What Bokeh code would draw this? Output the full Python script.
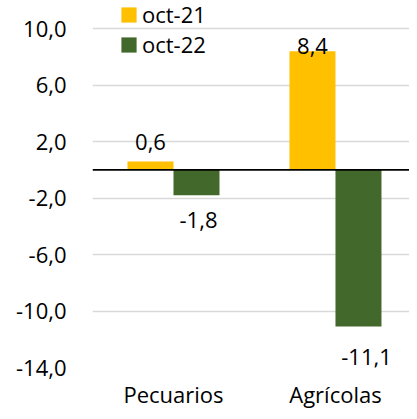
from bokeh.plotting import figure
from bokeh.models import (ColumnDataSource, Range1d, Span, Legend, LegendItem,
                          FixedTicker, CustomJSTickFormatter)
from bokeh.core.properties import value
from bokeh.embed import file_html
from bokeh.resources import INLINE

# ---- data ----
categories = ["Pecuarios", "Agrícolas"]
series_names = ["oct-21", "oct-22"]
oct_21 = [0.6, 8.4]
oct_22 = [-1.8, -11.1]
y_ticks = [-14.0, -10.0, -6.0, -2.0, 2.0, 6.0, 10.0]


def fmt(v):
    return f"{v:.1f}".replace(".", ",")


# ---- style / layout ----
FONT = "Open Sans"
FS = "22px"
YELLOW = "#FFC000"
GREEN = "#43682B"
BAR_W = 0.284
X_END = 1.957          # visible part of the 2-category axis
lbl21_dy = [-19, -5]
lbl22_dy = [25, 30]
lbl21_dx = [0, 0]
lbl22_dx = [2, 8]

# category centres on a numeric axis
cat_x = [i + 0.5 for i in range(len(categories))]

p = figure(x_range=Range1d(0, X_END), y_range=Range1d(-14, 12),
           width=409, height=411, output_backend="svg", toolbar_location=None,
           min_border_left=92, min_border_right=0, min_border_top=0,
           min_border_bottom=37)
p.outline_line_color = None
p.background_fill_color = "white"
p.border_fill_color = "white"

src21 = ColumnDataSource(dict(x=[c - BAR_W / 2 for c in cat_x], v=oct_21,
                              lbl=[fmt(v) for v in oct_21],
                              dy=lbl21_dy, dx=lbl21_dx))
src22 = ColumnDataSource(dict(x=[c + BAR_W / 2 for c in cat_x], v=oct_22,
                              lbl=[fmt(v) for v in oct_22],
                              dy=lbl22_dy, dx=lbl22_dx))

r21 = p.vbar(x="x", top="v", bottom=0, width=BAR_W, source=src21,
             fill_color=YELLOW, line_color=None)
r22 = p.vbar(x="x", top="v", bottom=0, width=BAR_W, source=src22,
             fill_color=GREEN, line_color=None)

for src in (src21, src22):
    p.text(x="x", y="v", text="lbl", x_offset="dx", y_offset="dy", source=src,
           text_font=value(FONT), text_font_size=FS, text_color="black",
           text_align="center", text_baseline="alphabetic")

p.add_layout(Span(location=0, dimension="width", line_color="black",
                  line_width=1.6))

# grid
p.xgrid.grid_line_color = None
p.ygrid.ticker = FixedTicker(ticks=y_ticks)
p.ygrid.grid_line_color = "#D9D9D9"
p.ygrid.grid_line_width = 1.5

# axes
p.yaxis.ticker = FixedTicker(ticks=y_ticks)
p.yaxis.formatter = CustomJSTickFormatter(
    code="return tick.toFixed(1).replace('.', ',')")
p.xaxis.ticker = FixedTicker(ticks=cat_x)
p.xaxis.formatter = CustomJSTickFormatter(
    args=dict(cats=categories), code="return cats[Math.floor(tick)]")
for ax in (p.xaxis[0], p.yaxis[0]):
    ax.axis_line_color = None
    ax.major_tick_line_color = None
    ax.minor_tick_line_color = None
    ax.major_tick_out = 0
    ax.major_tick_in = 0
    ax.minor_tick_out = 0
    ax.minor_tick_in = 0
    ax.major_label_text_font = FONT
    ax.major_label_text_font_size = FS
    ax.major_label_text_color = "black"
p.yaxis.major_label_standoff = 26
p.xaxis.major_label_standoff = 11

legend = Legend(items=[LegendItem(label=series_names[0], renderers=[r21]),
                       LegendItem(label=series_names[1], renderers=[r22])],
                location=(27, 308), padding=0, margin=0, spacing=-7,
                glyph_width=19, glyph_height=19, label_standoff=4,
                label_text_font=FONT, label_text_font_size=FS,
                label_text_color="black",
                background_fill_alpha=0, border_line_color=None)
p.add_layout(legend)

open("out.html", "w").write(file_html(p, INLINE))
